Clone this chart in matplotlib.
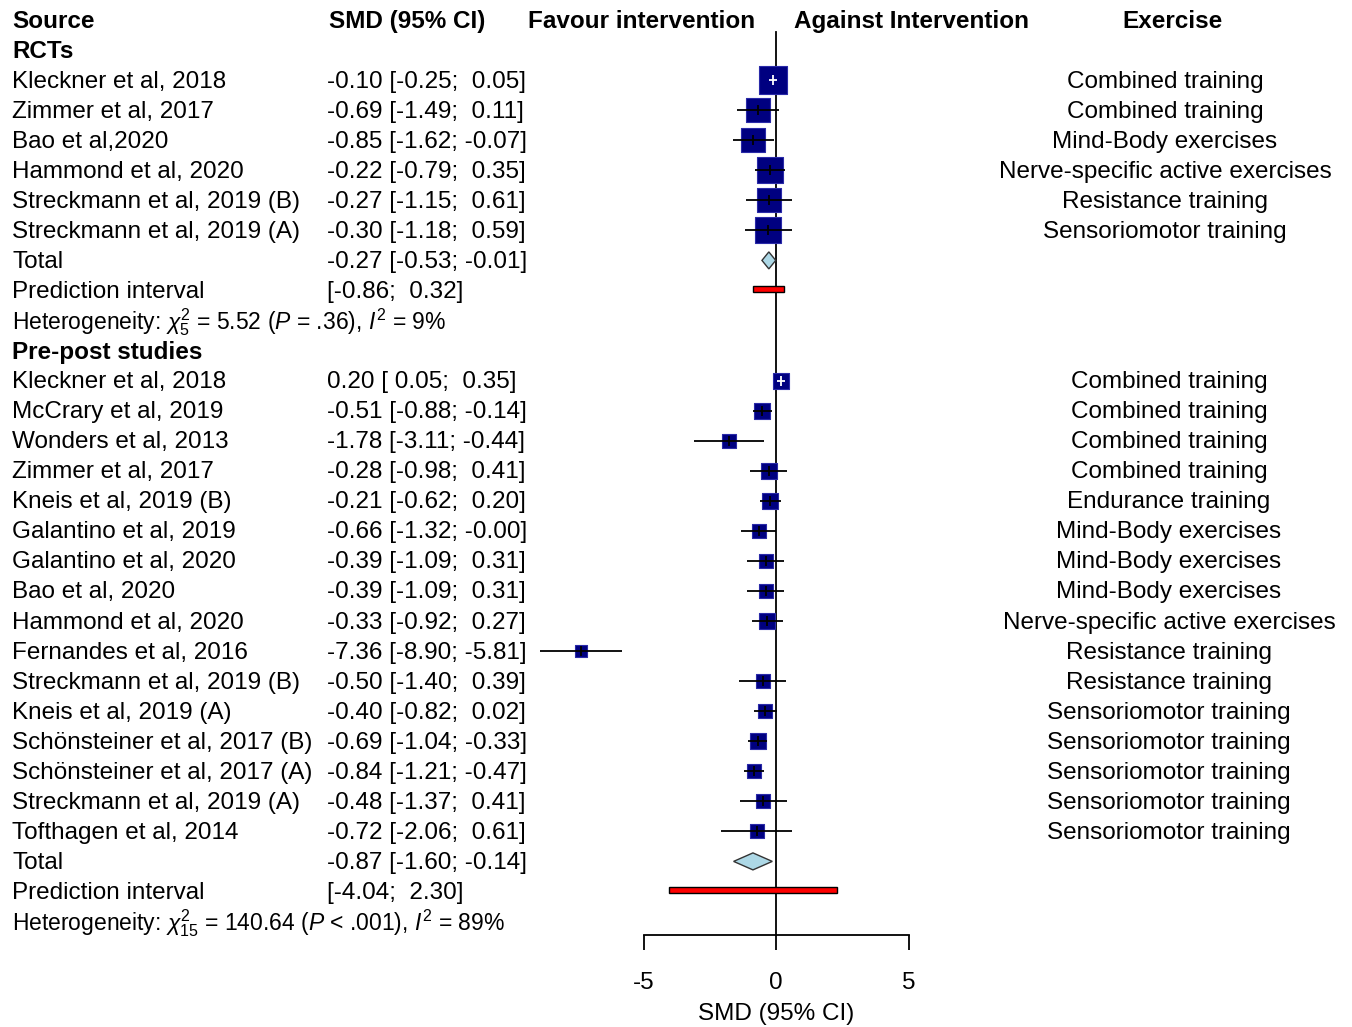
import numpy as np
import matplotlib
matplotlib.use("Agg")
import matplotlib.pyplot as plt
from matplotlib.patches import Polygon, Rectangle

plt.rcParams['font.family'] = ['Liberation Sans', 'DejaVu Sans']
plt.rcParams['mathtext.fontset'] = 'custom'
plt.rcParams['mathtext.rm'] = 'Liberation Sans'
plt.rcParams['mathtext.it'] = 'Liberation Sans:italic'
plt.rcParams['mathtext.bf'] = 'Liberation Sans:bold'

# ---------------- data ----------------
rct_studies = ["Kleckner et al, 2018", "Zimmer et al, 2017", "Bao et al,2020",
               "Hammond et al, 2020", "Streckmann et al, 2019 (B)", "Streckmann et al, 2019 (A)"]
rct_smd = [-0.10, -0.69, -0.85, -0.22, -0.27, -0.30]
rct_lo = [-0.25, -1.49, -1.62, -0.79, -1.15, -1.18]
rct_hi = [0.05, 0.11, -0.07, 0.35, 0.61, 0.59]
rct_weight = [20.2, 14.6, 14.6, 17.3, 15.9, 17.3]
rct_exercise = ["Combined training", "Combined training", "Mind-Body exercises",
                "Nerve-specific active exercises", "Resistance training", "Sensoriomotor training"]
rct_total = [-0.27, -0.53, -0.01]
rct_pred = [-0.86, 0.32]
rct_het = r"Heterogeneity: $\chi^2_{5}$ = 5.52 ($P$ = .36), $I^2$ = 9%"

pp_studies = ["Kleckner et al, 2018", "McCrary et al, 2019", "Wonders et al, 2013",
              "Zimmer et al, 2017", "Kneis et al, 2019 (B)", "Galantino et al, 2019",
              "Galantino et al, 2020", "Bao et al, 2020", "Hammond et al, 2020",
              "Fernandes et al, 2016", "Streckmann et al, 2019 (B)", "Kneis et al, 2019 (A)",
              "Schönsteiner et al, 2017 (B)", "Schönsteiner et al, 2017 (A)",
              "Streckmann et al, 2019 (A)", "Tofthagen et al, 2014"]
pp_smd = [0.20, -0.51, -1.78, -0.28, -0.21, -0.66, -0.39, -0.39, -0.33, -7.36,
          -0.50, -0.40, -0.69, -0.84, -0.48, -0.72]
pp_lo = [0.05, -0.88, -3.11, -0.98, -0.62, -1.32, -1.09, -1.09, -0.92, -8.90,
         -1.40, -0.82, -1.04, -1.21, -1.37, -2.06]
pp_hi = [0.35, -0.14, -0.44, 0.41, 0.20, -0.0, 0.31, 0.31, 0.27, -5.81,
         0.39, 0.02, -0.33, -0.47, 0.41, 0.61]
pp_weight = [7.6, 7.6, 5.2, 6.8, 7.6, 5.9, 5.9, 5.9, 7.6, 3.8,
             5.2, 5.9, 7.6, 5.9, 5.9, 5.2]
pp_exercise = ["Combined training", "Combined training", "Combined training", "Combined training",
               "Endurance training", "Mind-Body exercises", "Mind-Body exercises",
               "Mind-Body exercises", "Nerve-specific active exercises", "Resistance training",
               "Resistance training", "Sensoriomotor training", "Sensoriomotor training",
               "Sensoriomotor training", "Sensoriomotor training", "Sensoriomotor training"]
pp_total = [-0.87, -1.60, -0.14]
pp_pred = [-4.04, 2.30]
pp_het = r"Heterogeneity: $\chi^2_{15}$ = 140.64 ($P$ < .001), $I^2$ = 89%"

x_ticks = [-5, 0, 5]

# ---------------- layout ----------------
W, H = 1352, 1027
DPI = 100
X0 = 776.0        # pixel of SMD = 0
XS = 26.5         # pixels per SMD unit
Y0 = 20.0         # pixel of row 0
YS = 30.05        # pixels per row
TOFF = 1.5 / YS   # small downward nudge for text

def px2x(p):
    return (p - X0) / XS

def py2r(p):
    return (p - Y0) / YS

fig = plt.figure(figsize=(W / DPI, H / DPI), dpi=DPI)
ax = fig.add_axes([0, 0, 1, 1])
ax.set_xlim(px2x(0), px2x(W))
ax.set_ylim(py2r(H), py2r(0))

FS = 17.5
FS_HET = 16.5
NAVY = "#000080"

def txt(x_px, row, s, **kw):
    kw.setdefault("fontsize", FS)
    kw.setdefault("va", "center")
    ax.text(px2x(x_px), row + TOFF, s, **kw)

def fmt_ci(est, lo, hi):
    return f"{est:.2f} [{lo:5.2f}; {hi:5.2f}]"

# headers
hy = 0
txt(12, hy, "Source", fontweight="bold", ha="left")
txt(329, hy, "SMD (95% CI)", fontweight="bold", ha="left")
txt(642, hy, "Favour intervention", fontweight="bold", ha="center")
txt(911, hy, "Against Intervention", fontweight="bold", ha="center")
txt(1172, hy, "Exercise", fontweight="bold", ha="center")

def draw_group(start_row, title, studies, smd, lo, hi, weight, exercise, total, pred, het, ex_center):
    txt(12, start_row, title, fontweight="bold", ha="left")
    rows = np.arange(len(studies)) + start_row + 1
    for r, name, e, l, h, w, ex in zip(rows, studies, smd, lo, hi, weight, exercise):
        txt(12, r, name, ha="left")
        txt(327, r, fmt_ci(e, l, h), ha="left")
        txt(ex_center, r, ex, ha="center")
        side_px = 6.05 * np.sqrt(w)
        side_pt = side_px * 72 / DPI
        ax.scatter([e], [r], s=side_pt ** 2, marker="s", facecolor=NAVY,
                   edgecolor="#2a2aa8", linewidths=0.8, zorder=3)
        inside = (h - l) * XS < side_px
        col = "white" if inside else "black"
        ax.hlines(r, l, h, color=col, lw=1.3, zorder=4)
        ax.plot([e], [r], marker="|", ms=6.5, mew=1.3, color=col, zorder=4)
    # total
    tr = rows[-1] + 1
    txt(12, tr, "Total", ha="left")
    txt(327, tr, fmt_ci(*total), ha="left")
    dh = 17 / YS
    est, l, h = total
    ax.add_patch(Polygon([[l, tr], [est, tr - dh / 2], [h, tr], [est, tr + dh / 2]],
                         closed=True, facecolor="#ADD8E6", edgecolor="#333333", lw=1.0, zorder=3))
    # prediction interval
    pr = tr + 1
    txt(12, pr, "Prediction interval", ha="left")
    txt(327, pr, f"[{pred[0]:5.2f}; {pred[1]:5.2f}]", ha="left")
    rh = 6 / YS
    ax.add_patch(Rectangle((pred[0], pr - 0.05 - rh / 2), pred[1] - pred[0], rh,
                           facecolor="red", edgecolor="black", lw=1.0, zorder=3))
    # heterogeneity
    txt(12, pr + 1, het, fontsize=FS_HET, ha="left")
    return pr + 1

end1 = draw_group(1, "RCTs", rct_studies, rct_smd, rct_lo, rct_hi, rct_weight,
                  rct_exercise, rct_total, rct_pred, rct_het, 1165)
draw_group(end1 + 1, "Pre-post studies", pp_studies, pp_smd, pp_lo, pp_hi, pp_weight,
           pp_exercise, pp_total, pp_pred, pp_het, 1169)

# zero reference line
axis_row = py2r(935)
ax.plot([0, 0], [py2r(32), axis_row], color="black", lw=1.3, zorder=2)

# x axis
for s in ["top", "left", "right"]:
    ax.spines[s].set_visible(False)
ax.spines["bottom"].set_position(("data", axis_row))
ax.spines["bottom"].set_bounds(x_ticks[0], x_ticks[-1])
ax.spines["bottom"].set_linewidth(1.3)
ax.set_xticks(x_ticks)
ax.set_xticklabels([str(t) for t in x_ticks])
ax.tick_params(axis="x", direction="out", length=11, width=1.3, pad=16, labelsize=FS)
ax.set_yticks([])
ax.set_xlabel("SMD (95% CI)", fontsize=FS, labelpad=6)
ax.xaxis.label.set_x(X0 / W)

fig.savefig("out.png", dpi=DPI)
